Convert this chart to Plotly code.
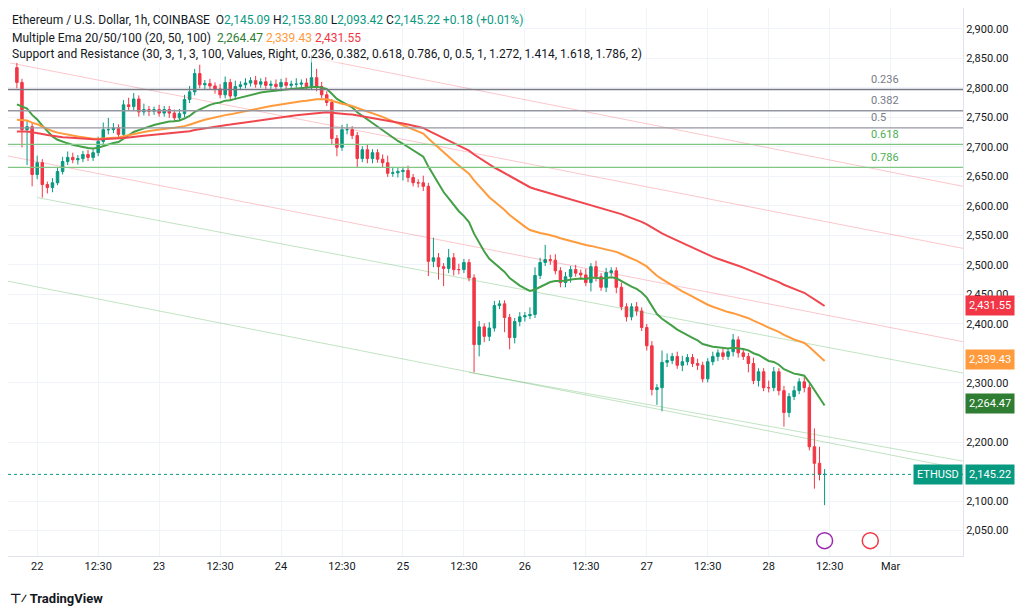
import plotly.graph_objects as go
import pandas as pd

closes = [
2809,2729,2734,2653,2673,2636,2631,2639,2658,2675,
2682,2678,2680,2687,2682,2690,2709,2729,2729,2732,
2721,2771,2768,2781,2759,2763,2760,2763,2757,2763,
2757,2749,2756,2780,2793,2824,2805,2807,2803,2798,
2788,2809,2786,2802,2805,2808,2812,2806,2810,2804,
2806,2802,2809,2804,2806,2806,2808,2802,2817,2802,
2788,2775,2714,2699,2729,2729,2719,2680,2695,2680,
2690,2679,2673,2655,2656,2658,2660,2648,2639,2639,
2633,2506,2512,2497,2494,2512,2492,2492,2504,2478,
2365,2395,2379,2393,2431,2434,2411,2377,2404,2412,
2414,2416,2482,2504,2509,2508,2490,2470,2480,2492,
2486,2483,2470,2497,2480,2462,2487,2490,2462,2429,
2412,2429,2422,2394,2363,2289,2292,2335,2338,2345,
2330,2336,2343,2333,2330,2307,2336,2345,2351,2345,
2353,2373,2351,2345,2333,2304,2319,2292,2292,2319,
2287,2250,2277,2287,2302,2292,2192,2164,2145.09,2145.22]
first_open = 2834
up_wick = [
8,6,10,6,12,6,5,8,6,8, 10,8,6,6,8,6,8,12,20,8,
6,8,12,10,6,10,6,5,8,6, 6,6,8,8,10,8,15,6,8,6,
8,10,6,10,6,8,6,8,6,8, 6,8,6,8,6,10,6,8,38,15,
8,6,6,6,8,10,6,6,6,8, 6,6,8,12,10,6,6,8,6,6,
12,6,34,8,6,15,8,10,6,6, 6,10,6,10,8,6,6,6,6,8,
6,12,14,8,25,8,10,6,8,6, 8,6,10,6,10,6,8,6,6,8,
6,6,8,6,6,8,6,20,12,6, 8,10,6,6,8,6,6,8,6,8,
6,10,6,8,6,10,6,6,12,8, 6,8,6,8,6,8,6,31,28,9]
down_wick = [
10,30,60,20,8,22,10,8,4,5, 6,6,8,6,6,6,6,6,8,6,
8,6,6,6,8,6,8,6,6,6, 8,6,6,6,6,6,6,8,6,8,
6,6,8,6,6,6,6,6,6,6, 6,6,8,6,6,6,8,6,6,8,
6,6,10,15,6,8,6,15,6,8, 8,6,8,6,6,8,15,8,6,8,
8,25,10,22,30,8,10,8,6,6, 47,20,10,8,6,6,25,20,10,8,
8,6,6,6,6,8,6,8,8,10, 6,8,6,15,8,6,8,6,10,6,
8,6,8,6,8,10,26,40,8,6, 6,10,6,6,8,6,6,6,8,6,
6,8,8,6,15,6,10,6,8,6, 8,24,8,6,6,8,6,43,10,52]
start_time = "2025-02-21 20:00"
ema_seeds = {20: 2768, 50: 2743, 100: 2724}
fib_levels = [0.236, 0.382, 0.5, 0.618, 0.786]
fib_prices = [2797, 2761, 2732, 2704, 2665]
trend_pink = [
    (["2025-02-24 05:00", "2025-03-01 16:00"], [2853, 2630]),
    (["2025-02-21 18:40", "2025-03-01 16:00"], [2842, 2525]),
    (["2025-02-21 16:40", "2025-03-01 16:00"], [2687, 2367]),
]
trend_green = [
    (["2025-02-22 00:00", "2025-03-01 16:00"], [2614, 2314]),
    (["2025-02-25 13:00", "2025-03-01 16:00"], [2318, 2165]),
    (["2025-02-21 16:40", "2025-03-01 16:00"], [2475, 2151]),
]
x_tickvals = ["2025-02-22 00:00","2025-02-22 12:00","2025-02-23 00:00","2025-02-23 12:00",
              "2025-02-24 00:00","2025-02-24 12:00","2025-02-25 00:00","2025-02-25 12:00",
              "2025-02-26 00:00","2025-02-26 12:00","2025-02-27 00:00","2025-02-27 12:00",
              "2025-02-28 00:00","2025-02-28 12:00","2025-03-01 00:00"]
x_ticktext = ["22","12:30","23","12:30","24","12:30","25","12:30","26","12:30","27","12:30","28","12:30","Mar"]
y_tickvals = [2050,2100,2200,2300,2400,2450,2500,2550,2600,2650,2700,2750,2800,2850,2900]

times = pd.date_range(start_time, periods=len(closes), freq="h")
opens = [first_open] + closes[:-1]
highs = [max(o, c) + u for o, c, u in zip(opens, closes, up_wick)]
lows = [min(o, c) - d for o, c, d in zip(opens, closes, down_wick)]

def ema(vals, n, seed):
    a = 2 / (n + 1); e = seed; out = []
    for v in vals:
        e = a * v + (1 - a) * e
        out.append(e)
    return out

GREEN = "#089981"; RED = "#f23645"
fig = go.Figure()
for xs, ys in trend_pink:
    fig.add_trace(go.Scatter(x=xs, y=ys, mode="lines", line=dict(color="rgba(242,54,69,0.28)", width=1), hoverinfo="skip"))
for xs, ys in trend_green:
    fig.add_trace(go.Scatter(x=xs, y=ys, mode="lines", line=dict(color="rgba(76,175,80,0.35)", width=1), hoverinfo="skip"))
fib_colors = ["#787b86", "#9598a1", "#9598a1", "#81c784", "#81c784"]
fib_text_colors = ["#787b86", "#787b86", "#787b86", "#4caf50", "#4caf50"]
for lv, p, c, tc in zip(fib_levels, fib_prices, fib_colors, fib_text_colors):
    fig.add_shape(type="line", xref="paper", x0=0, x1=1, y0=p, y1=p, line=dict(color=c, width=1.3))
    fig.add_annotation(xref="paper", x=0.902, y=p, yshift=10, text=str(lv), showarrow=False,
                       xanchor="left", font=dict(size=11, color=tc))
fig.add_trace(go.Candlestick(x=times, open=opens, high=highs, low=lows, close=closes,
    increasing=dict(line=dict(color=GREEN, width=1), fillcolor=GREEN),
    decreasing=dict(line=dict(color=RED, width=1), fillcolor=RED), whiskerwidth=0))
ema_cols = {20: "#43a047", 50: "#ff9b3d", 100: "#f0474f"}
emas = {}
for n in (20, 50, 100):
    emas[n] = ema(closes, n, ema_seeds[n])
    fig.add_trace(go.Scatter(x=times, y=emas[n], mode="lines", line=dict(color=ema_cols[n], width=2), hoverinfo="skip"))
fig.add_shape(type="line", xref="paper", x0=0, x1=1, y0=closes[-1], y1=closes[-1], line=dict(color=GREEN, width=1, dash="dot"))
fig.add_trace(go.Scatter(x=["2025-02-28 11:00", "2025-02-28 20:00"], y=[2033, 2033], mode="markers",
    marker=dict(size=16, color=["#ffffff", "#ffffff"], line=dict(color=["#9c27b0", "#f23645"], width=1.5)), hoverinfo="skip"))

label_vals = [2431.55, 2339.43, 2264.47, closes[-1]]
for val, col in zip(label_vals, [RED, "#ff9b3d", "#2e7d32", GREEN]):
    fig.add_annotation(xref="paper", x=1.0, y=val, text=f"{val:,.2f}", showarrow=False, xanchor="left",
                       xshift=2, bgcolor=col, font=dict(color="white", size=11), borderpad=3)
fig.add_annotation(xref="paper", x=1.0, y=closes[-1], text="ETHUSD", showarrow=False, xanchor="right",
                   bgcolor=GREEN, font=dict(color="white", size=11), borderpad=3)

def ypos(px): return 1 - px / 548
hdr = [
    (12, "Ethereum / U.S. Dollar, 1h, COINBASE  O<span style='color:#089981'>2,145.09</span> H<span style='color:#089981'>2,153.80</span> L<span style='color:#089981'>2,093.42</span> C<span style='color:#089981'>2,145.22 +0.18 (+0.01%)</span>"),
    (30, "Multiple Ema 20/50/100 (20, 50, 100)  <span style='color:#2e7d32'>2,264.47</span> <span style='color:#ff9b3d'>2,339.43</span> <span style='color:#f23645'>2,431.55</span>"),
    (46, "Support and Resistance (30, 3, 1, 3, 100, Values, Right, 0.236, 0.382, 0.618, 0.786, 0, 0.5, 1, 1.272, 1.414, 1.618, 1.786, 2)"),
]
for py, t in hdr:
    fig.add_annotation(xref="paper", yref="paper", x=0.002, y=ypos(py), text=t, showarrow=False,
                       xanchor="left", yanchor="middle", font=dict(size=12, color="#131722"), bgcolor="rgba(255,255,255,0.6)")
fig.add_annotation(xref="paper", yref="paper", x=0.0, y=ypos(590), text="<b>⊤⁄ TradingView</b>", showarrow=False,
                   xanchor="left", yanchor="middle", font=dict(size=13, color="#131722"))

fig.update_layout(width=1024, height=607, margin=dict(l=0, r=69, t=0, b=59),
    paper_bgcolor="white", plot_bgcolor="white", showlegend=False,
    font=dict(family="Roboto, Arial", color="#131722"))
fig.update_xaxes(range=["2025-02-21 18:15", "2025-03-01 14:15"], rangeslider_visible=False,
    tickvals=x_tickvals, ticktext=x_ticktext, showgrid=True, gridcolor="#f0f3fa",
    tickfont=dict(size=11), showline=True, linecolor="#e0e3eb", ticks="")
fig.update_yaxes(range=[2007, 2935], side="right", tickvals=y_tickvals, tickformat=",.2f", showgrid=True,
    gridcolor="#f0f3fa", tickfont=dict(size=11), showline=True, linecolor="#e0e3eb", zeroline=False, ticks="")
fig.write_html("out.html")
